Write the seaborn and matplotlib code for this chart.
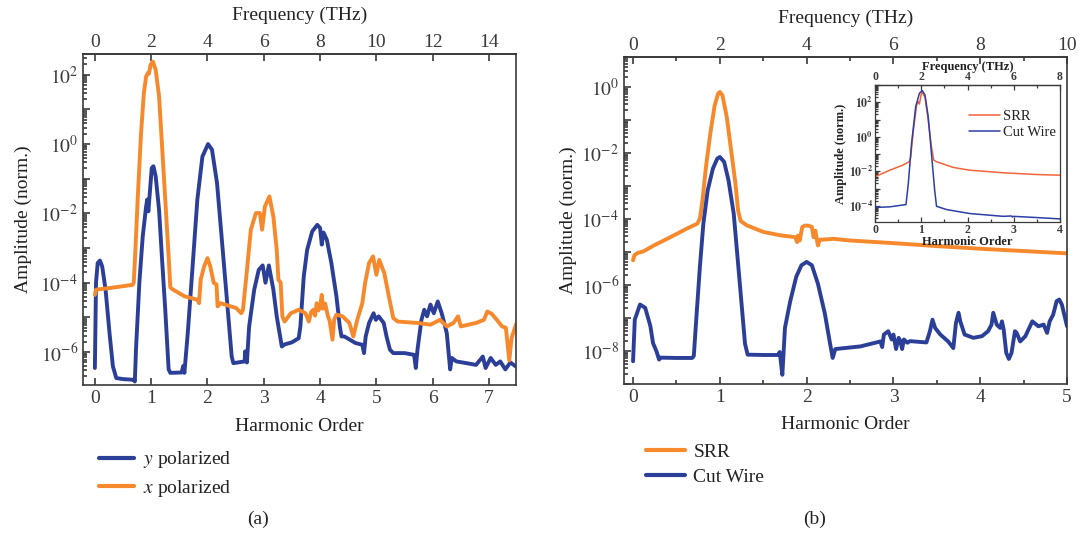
import numpy as np
import pandas as pd
import matplotlib
matplotlib.use("Agg")
import matplotlib.pyplot as plt
import seaborn as sns
from matplotlib.ticker import LogLocator, FuncFormatter, MultipleLocator, NullFormatter
from matplotlib.lines import Line2D

# ---------------- data (harmonic order, log10 amplitude) ----------------
ypol_h = [0.00,0.02,0.05,0.09,0.13,0.19,0.26,0.32,0.38,0.50,
          0.69,0.71,0.73,0.79,0.85,0.91,0.93,0.95,0.98,1.01,
          1.04,1.08,1.14,1.19,1.25,1.31,1.34,1.54,1.57,1.59,
          1.65,1.74,1.82,1.91,2.01,2.08,2.17,2.25,2.34,2.43,
          2.46,2.66,2.67,2.70,2.74,2.83,2.91,2.98,3.03,3.09,
          3.17,3.23,3.32,3.37,3.50,3.62,3.65,3.71,3.77,3.86,
          3.95,4.00,4.03,4.06,4.12,4.20,4.29,4.35,4.38,4.43,
          4.63,4.75,4.78,4.81,4.87,4.95,4.99,5.04,5.13,5.18,
          5.24,5.30,5.50,5.67,5.70,5.73,5.80,5.85,5.90,5.96,
          6.02,6.09,6.16,6.25,6.31,6.34,6.42,6.60,6.77,6.89,
          6.94,7.03,7.12,7.20,7.29,7.38,7.48]
ypol_log = [-6.46,-4.0,-3.43,-3.36,-3.53,-4.2,-5.45,-6.41,-6.75,-6.78,
            -6.8,-6.85,-5.93,-4.0,-2.66,-1.8,-1.6,-1.94,-1.32,-0.69,
            -0.64,-0.93,-1.9,-3.24,-4.78,-6.5,-6.6,-6.59,-6.4,-6.6,
            -5.45,-3.43,-1.6,-0.36,0.0,-0.16,-1.13,-2.66,-4.39,-6.13,
            -6.32,-6.27,-5.98,-6.3,-5.26,-4.2,-3.63,-3.5,-4.0,-3.5,
            -4.2,-4.97,-5.84,-5.78,-5.72,-5.6,-5.26,-3.82,-3.05,-2.52,
            -2.33,-2.42,-2.9,-2.55,-2.76,-3.43,-4.39,-5.26,-5.55,-5.55,
            -5.74,-5.79,-6.03,-5.55,-5.16,-4.88,-5.07,-4.97,-5.16,-5.55,
            -5.93,-6.03,-6.03,-6.08,-6.46,-5.93,-5.07,-4.78,-4.97,-4.63,
            -4.88,-4.54,-4.88,-5.45,-6.5,-6.17,-6.27,-6.32,-6.37,-6.13,
            -6.46,-6.17,-6.37,-6.27,-6.5,-6.3,-6.42]

xpol_h = [0.00,0.02,0.28,0.67,0.69,0.72,0.76,0.82,0.87,0.91,
          0.94,0.96,0.99,1.03,1.08,1.14,1.19,1.25,1.31,1.34,
          1.37,1.59,1.82,1.85,1.88,1.94,2.00,2.05,2.11,2.16,
          2.18,2.23,2.51,2.60,2.63,2.69,2.77,2.86,2.93,2.97,
          3.02,3.10,3.17,3.23,3.26,3.30,3.33,3.37,3.48,3.62,
          3.74,3.80,3.84,3.88,3.91,3.94,3.97,4.00,4.03,4.05,
          4.09,4.14,4.17,4.22,4.25,4.29,4.40,4.52,4.59,4.66,
          4.75,4.80,4.87,4.94,5.00,5.05,5.14,5.21,5.30,5.38,
          5.73,5.96,6.13,6.25,6.37,6.45,6.50,6.77,6.91,6.97,
          7.05,7.14,7.23,7.30,7.36,7.40,7.48]
xpol_log = [-4.35,-4.2,-4.15,-4.06,-4.0,-3.05,-1.6,0.32,1.47,1.95,
            2.05,2.03,2.29,2.38,2.14,1.38,0.03,-1.6,-3.24,-4.13,
            -4.18,-4.39,-4.49,-4.59,-3.91,-3.53,-3.29,-3.53,-4.0,-4.05,
            -4.68,-4.59,-4.73,-4.88,-4.78,-3.82,-2.47,-1.99,-1.99,-2.47,
            -1.8,-1.51,-2.09,-3.05,-3.91,-4.0,-4.97,-5.12,-4.88,-4.78,
            -4.88,-5.12,-4.85,-4.78,-4.95,-4.59,-4.8,-4.7,-4.35,-4.75,
            -4.6,-4.97,-5.1,-5.64,-5.07,-4.92,-4.97,-5.16,-5.55,-5.07,
            -4.59,-4.0,-3.43,-3.24,-3.77,-3.34,-3.72,-4.3,-5.02,-5.12,
            -5.16,-5.21,-5.07,-5.26,-5.16,-4.97,-5.26,-5.16,-5.07,-4.83,
            -4.9,-5.07,-5.26,-5.3,-6.24,-5.6,-5.2]

srr_h = [0.00,0.015,0.05,0.12,0.24,0.43,0.62,0.74,0.77,0.80,
         0.84,0.89,0.94,0.98,1.00,1.03,1.08,1.13,1.18,1.21,
         1.24,1.31,1.50,1.69,1.87,1.89,1.90,1.92,1.95,1.98,
         2.02,2.06,2.08,2.10,2.13,2.15,2.31,2.50,3.00,3.50,
         4.00,4.50,5.00]
srr_log = [-5.25,-5.1,-5.03,-4.98,-4.8,-4.55,-4.29,-4.14,-3.99,-3.43,
           -2.42,-1.41,-0.56,-0.2,-0.15,-0.25,-0.91,-1.92,-2.93,-3.74,
           -4.06,-4.19,-4.39,-4.49,-4.55,-4.7,-4.5,-4.65,-4.24,-4.2,
           -4.2,-4.24,-4.55,-4.35,-4.8,-4.63,-4.6,-4.65,-4.73,-4.82,
           -4.9,-4.97,-5.04]

cw_h = [0.00,0.02,0.08,0.14,0.20,0.23,0.27,0.30,0.31,0.50,
        0.68,0.70,0.73,0.77,0.81,0.86,0.92,0.97,1.00,1.05,
        1.10,1.16,1.21,1.26,1.29,1.32,1.50,1.67,1.69,1.72,
        1.75,1.81,1.88,1.94,2.00,2.06,2.13,2.21,2.27,2.30,
        2.33,2.62,2.85,2.87,2.89,2.94,2.98,3.00,3.03,3.06,
        3.08,3.10,3.12,3.16,3.19,3.38,3.42,3.45,3.48,3.54,
        3.63,3.69,3.72,3.75,3.77,3.82,3.92,4.02,4.09,4.13,
        4.15,4.19,4.23,4.25,4.27,4.30,4.33,4.36,4.40,4.42,
        4.46,4.52,4.60,4.67,4.73,4.77,4.80,4.84,4.88,4.91,
        4.94,5.00]
cw_log = [-8.31,-7.05,-6.59,-6.69,-7.25,-7.76,-8.01,-8.26,-8.2,-8.21,
          -8.21,-8.15,-6.97,-5.45,-4.14,-3.13,-2.47,-2.17,-2.12,-2.27,
          -2.83,-3.84,-5.35,-6.87,-7.78,-8.11,-8.12,-8.12,-8.03,-8.72,
          -7.3,-6.5,-5.75,-5.4,-5.3,-5.4,-5.96,-6.87,-7.78,-8.21,
          -7.94,-7.86,-7.71,-7.88,-7.5,-7.4,-7.65,-7.5,-7.94,-7.6,
          -7.7,-7.94,-7.65,-7.75,-7.7,-7.74,-7.4,-7.05,-7.3,-7.5,
          -7.71,-7.91,-7.15,-6.84,-7.1,-7.5,-7.6,-7.55,-7.4,-7.2,
          -6.84,-7.2,-7.3,-7.1,-7.35,-8.06,-8.24,-8.06,-7.4,-7.45,
          -7.71,-7.55,-7.1,-7.25,-7.2,-7.45,-7.1,-6.9,-6.49,-6.44,
          -6.59,-7.25]

ins_srr_h = [0.00,0.32,0.60,0.74,0.77,0.83,0.90,0.94,0.96,0.98,1.01,1.08,1.15,1.22,1.27,1.33,1.69,2.05,2.77,3.49,4.00]
ins_srr_log = [-2.31,-1.93,-1.64,-1.44,-1.2,0.39,1.85,2.04,1.9,2.2,2.62,2.3,0.97,-0.57,-1.35,-1.44,-1.77,-1.93,-2.08,-2.18,-2.22]
ins_cw_h = [0.00,0.32,0.67,0.72,0.79,0.88,0.96,1.02,1.08,1.15,1.22,1.29,1.33,1.55,2.05,2.77,2.95,2.97,2.99,3.49,4.00]
ins_cw_log = [-4.09,-4.05,-3.92,-2.7,-0.38,1.75,2.52,2.68,2.43,1.17,-0.96,-3.09,-4.02,-4.21,-4.44,-4.6,-4.58,-4.64,-4.6,-4.67,-4.75]

left_xticks = [0, 1, 2, 3, 4, 5, 6, 7]
left_fticks = [0, 2, 4, 6, 8, 10, 12, 14]
right_xticks = [0, 1, 2, 3, 4, 5]
right_fticks = [0, 2, 4, 6, 8, 10]
inset_xticks = [0, 1, 2, 3, 4]
inset_fticks = [0, 2, 4, 6, 8]

for a, b in [(ypol_h, ypol_log), (xpol_h, xpol_log), (srr_h, srr_log), (cw_h, cw_log),
             (ins_srr_h, ins_srr_log), (ins_cw_h, ins_cw_log)]:
    assert len(a) == len(b), (len(a), len(b))

def frame(h, lg):
    return pd.DataFrame({"h": h, "amp": np.power(10.0, np.asarray(lg, dtype=float))})

BLUE = "#2c3f98"
ORANGE = "#f5892c"
IN_RED = "#f2643a"
IN_BLUE = "#2b40a6"
SPINE = "#3a3a3a"

sns.set_style("ticks")
plt.rcParams["font.family"] = ["Liberation Serif", "DejaVu Serif"]
plt.rcParams["mathtext.fontset"] = "stix"
plt.rcParams["axes.edgecolor"] = SPINE
plt.rcParams["xtick.color"] = SPINE
plt.rcParams["ytick.color"] = SPINE
plt.rcParams["text.color"] = "#222222"
plt.rcParams["axes.labelcolor"] = "#222222"

fig = plt.figure(figsize=(10.8, 5.35), dpi=100)
axL = fig.add_axes([0.0769, 0.2804, 0.4009, 0.6187])
axR = fig.add_axes([0.5778, 0.2822, 0.4102, 0.6112])
axI = fig.add_axes([0.8102, 0.5850, 0.1713, 0.2561])

def even_fmt(bold=False):
    def f(v, pos):
        if v <= 0:
            return ""
        e = int(round(np.log10(v)))
        if abs(np.log10(v) - e) > 1e-6 or e % 2 != 0:
            return ""
        if bold:
            return r"$\mathbf{10^{%d}}$" % e
        return r"$10^{%d}$" % e
    return FuncFormatter(f)

def style(ax, fs, xticks, fticks, xminor, fminor, lw_spine, bold=False, maj=5, mnr=3, toppad=2.0):
    ax.set_yscale("log")
    ax.yaxis.set_major_locator(LogLocator(base=10, numticks=40))
    ax.yaxis.set_minor_locator(LogLocator(base=10, subs=np.arange(2, 10), numticks=40))
    ax.yaxis.set_major_formatter(even_fmt(bold))
    ax.yaxis.set_minor_formatter(NullFormatter())
    ax.set_xticks(xticks)
    if xminor:
        ax.xaxis.set_minor_locator(MultipleLocator(xminor))
    ax.tick_params(which="both", direction="in", top=False, right=False, bottom=True, left=True,
                   width=lw_spine, labelsize=fs)
    ax.tick_params(which="major", length=maj)
    ax.tick_params(which="minor", length=mnr)
    for s in ax.spines.values():
        s.set_linewidth(lw_spine)
        s.set_color(SPINE)
        s.set_visible(True)
    sec = ax.secondary_xaxis("top", functions=(lambda h: 2 * h, lambda f: f / 2))
    sec.set_xticks(fticks)
    if fminor:
        sec.xaxis.set_minor_locator(MultipleLocator(fminor))
    sec.tick_params(which="both", direction="in", width=lw_spine, labelsize=fs, pad=toppad)
    sec.tick_params(which="major", length=maj)
    sec.tick_params(which="minor", length=mnr)
    sec.spines["top"].set_linewidth(lw_spine)
    if bold:
        for t in ax.get_xticklabels() + sec.get_xticklabels():
            t.set_fontweight("bold")
    return sec

# ---------------- panel (a) ----------------
sns.lineplot(data=frame(ypol_h, ypol_log), x="h", y="amp", ax=axL, color=BLUE, lw=2.8,
             sort=False, estimator=None)
sns.lineplot(data=frame(xpol_h, xpol_log), x="h", y="amp", ax=axL, color=ORANGE, lw=2.8,
             sort=False, estimator=None)
axL.set_xlim(-0.21, 7.48)
axL.set_ylim(10 ** -6.95, 10 ** 2.6)
secL = style(axL, 14, left_xticks, left_fticks, None, None, 1.2)
axL.set_xlabel("Harmonic Order", fontsize=14, labelpad=8)
axL.set_ylabel("Amplitude (norm.)", fontsize=14, labelpad=6)
secL.set_xlabel("Frequency (THz)", fontsize=14, labelpad=10)

hL = [Line2D([], [], color=BLUE, lw=3.0), Line2D([], [], color=ORANGE, lw=3.0)]
fig.legend(hL, [r"$y$ polarized", r"$x$ polarized"], loc="upper left",
           bbox_to_anchor=(0.083, 0.178), frameon=False, fontsize=14, borderpad=0,
           handlelength=1.8, handletextpad=0.45, labelspacing=0.38)

# ---------------- panel (b) ----------------
sns.lineplot(data=frame(srr_h, srr_log), x="h", y="amp", ax=axR, color=ORANGE, lw=2.8,
             sort=False, estimator=None)
sns.lineplot(data=frame(cw_h, cw_log), x="h", y="amp", ax=axR, color=BLUE, lw=2.8,
             sort=False, estimator=None)
axR.set_xlim(-0.104, 5.0)
axR.set_ylim(10 ** -9.0, 10 ** 0.91)
secR = style(axR, 14, right_xticks, right_fticks, 0.5, 1, 1.2)
axR.set_xlabel("Harmonic Order", fontsize=14, labelpad=7)
axR.set_ylabel("Amplitude (norm.)", fontsize=14, labelpad=3)
secR.set_xlabel("Frequency (THz)", fontsize=14, labelpad=10)

hR = [Line2D([], [], color=ORANGE, lw=3.0), Line2D([], [], color=BLUE, lw=3.0)]
fig.legend(hR, ["SRR", "Cut Wire"], loc="upper left",
           bbox_to_anchor=(0.589, 0.189), frameon=False, fontsize=14, borderpad=0,
           handlelength=2.0, handletextpad=0.45, labelspacing=0.38)

# ---------------- inset ----------------
sns.lineplot(data=frame(ins_srr_h, ins_srr_log), x="h", y="amp", ax=axI, color=IN_RED, lw=1.1,
             sort=False, estimator=None)
sns.lineplot(data=frame(ins_cw_h, ins_cw_log), x="h", y="amp", ax=axI, color=IN_BLUE, lw=1.1,
             sort=False, estimator=None)
axI.set_xlim(0, 4)
axI.set_ylim(10 ** -4.93, 10 ** 3.0)
secI = style(axI, 8.5, inset_xticks, inset_fticks, 0.5, 1, 0.9, bold=True, maj=3.5, mnr=2, toppad=1.5)
axI.set_xlabel("Harmonic Order", fontsize=9, fontweight="bold", labelpad=0)
axI.set_ylabel("Amplitude (norm.)", fontsize=9, fontweight="bold", labelpad=1)
secI.set_xlabel("Frequency (THz)", fontsize=9, fontweight="bold", labelpad=1)
axI.tick_params(axis="both", pad=1.5)
hI = [Line2D([], [], color=IN_RED, lw=1.1), Line2D([], [], color=IN_BLUE, lw=1.1)]
axI.legend(hI, ["SRR", "Cut Wire"], loc="upper left", bbox_to_anchor=(0.47, 0.87),
           frameon=False, fontsize=10.5, borderpad=0, handlelength=2.1, handletextpad=0.2,
           labelspacing=0.15)

# captions
fig.text(258 / 1080, 1 - 519 / 535, "(a)", ha="center", va="center", fontsize=14)
fig.text(815 / 1080, 1 - 519 / 535, "(b)", ha="center", va="center", fontsize=14)

fig.savefig("out.png", dpi=100)
